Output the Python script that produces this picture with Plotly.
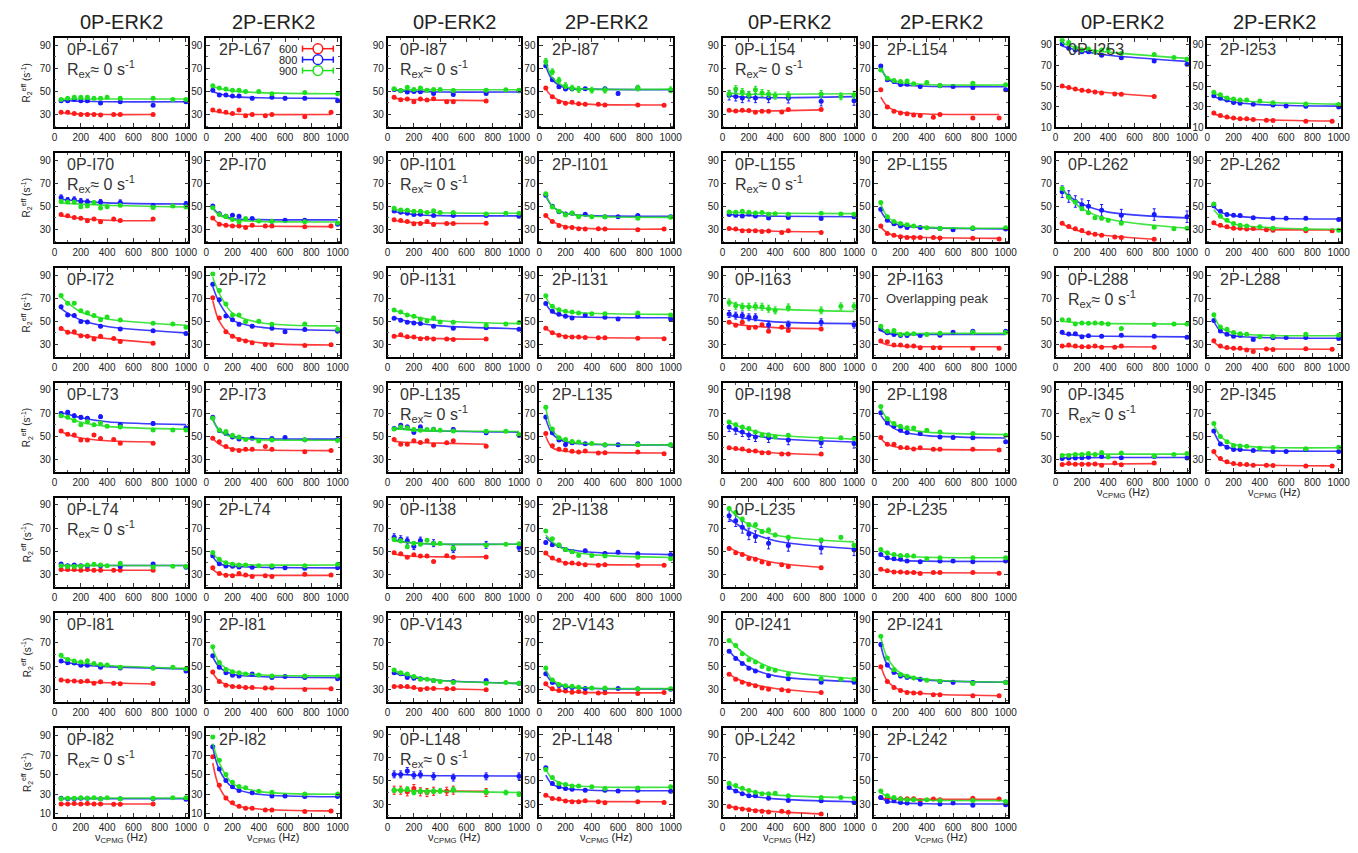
import plotly.graph_objects as go

# ---------------- x positions (Hz) ----------------
X0_600 = [50, 100, 150, 200, 250, 300, 350, 450, 500, 750]
X0_800 = [50, 100, 150, 200, 250, 350, 500, 750, 1000]
X0_900 = [50, 100, 150, 200, 250, 300, 350, 400, 500, 750, 900, 1000]
X2_600 = [50, 100, 150, 200, 250, 300, 350, 450, 500, 750, 950]
X2_800 = [50, 100, 150, 200, 250, 350, 500, 600, 750, 1000]
X2_900 = [50, 100, 150, 200, 250, 300, 400, 500, 750, 1000]
# fit-curve nodes
FX0_600 = [50, 100, 200, 400, 750]
FX2_600 = [50, 100, 200, 400, 950]
FX_800 = [50, 100, 200, 400, 1000]
FX_900 = [50, 100, 200, 400, 1000]

FIELDS = ["600", "800", "900"]
COLORS = ["#ff1a1a", "#1a1aff", "#1ee01e"]
X_TICKS = [0, 200, 400, 600, 800, 1000]

# ---------------- data: (600, 800, 900) ----------------
D_0P_L67 = ([32,32,31,30,30,30,29.5,30,30,30], [42,42,43,42,42,40,41,38,41], [43,44,45,45,45,44,44,45,44,44,43,43])
F_0P_L67 = ([31.5,31,30.5,30,30], [42,42,41.5,41,41], [43.5,43.5,43.5,43.5,43.5])
E_0P_L67 = (0.6, 0.8, 0.8)
D_2P_L67 = ([34,33,32,31,34,29,30,29,30,28,32], [51,47,47,46,46,44,45,44,44,42], [55,53,52,51,51,50,50,48,49,48])
F_2P_L67 = ([33,32,30.5,30,30], [50,48,45.5,44.5,44], [54,52.5,50.5,49,48])
E_2P_L67 = (0.6, 1.2, 0.8)

D_0P_I70 = ([43,41.8,40.3,39.7,37.5,39,36.6,39,37.7,39], [57.7,55.4,56,54.5,54,53.7,53.4,50.3,52], [54.3,53.7,53.7,49.7,50.3,53.4,48.6,49.7,50.9,49,50.3,49.4])
F_0P_I70 = ([42,41,39.5,38,37.5], [56,55.5,54.5,53,52], [53,52.5,52,51,49.5])
E_0P_I70 = (0.8, 2.2, 1.2)
D_2P_I70 = ([40,34.6,33.7,32.9,32.9,31.7,33.7,32.9,32.9,32.3,32.9], [50.3,43.7,41.4,42.3,41.4,39.4,37.1,38,38,34.6], [48.9,42.9,41.4,38.6,36.6,39.4,37.4,37.1,36.6,35.7])
F_2P_I70 = ([40,35,33.2,32.8,32.5], [49,43,39.5,38.5,38.3], [48,42.5,38.5,37,36.5])
E_2P_I70 = (0.6, 1.0, 0.8)

D_0P_I72 = ([43.7,40.6,41,37.4,37,34.6,37,35,32.4,31], [62.6,55.4,54.9,49.7,49.4,45.7,43.4,41.7,39.4], [72.3,65.7,65.7,59,57.4,54.9,51.4,53.7,51.1,48.3,47.7,44.9])
F_0P_I72 = ([43.5,41,38,35,31.5], [61,57,51,45.5,40], [71,66,58,52,46.5])
E_0P_I72 = (0.8, 1.0, 1.0)
D_2P_I72 = ([70.3,52.9,41,37,34.3,32.9,31.4,30,29.7,29,29.7], [82,68.6,54.6,51.4,47.4,45.7,44,41,42.9,41.4], [91,76.6,65,55.4,55.4,49.7,50,47.4,47.7,43.1])
F_2P_I72 = ([68,50,37,31.5,29.5], [80,66,51,45,42], [88,74,57,49,46])
E_2P_I72 = (0.8, 1.2, 1.2)

D_0P_L73 = ([54.5,51.7,51.1,46.6,46.6,51.1,48,47.2,43.8,43.8], [69.7,70.8,67.7,66.3,65.5,66.9,59.8,61,57], [67.7,66.3,63.5,59.8,62.6,59.8,61.5,58.7,57.9,55.4,55.4,55.4])
F_0P_L73 = ([54,51.5,48.5,46,45], [70,69,66,62.5,60], [68,66,62,58.5,56])
E_0P_L73 = (0.8, 1.5, 1.0)
D_2P_I73 = ([48.3,45.2,41,38.5,37.6,38.8,38.8,41,38.8,36.5,37.6], [66.3,55,52.3,49.4,47.5,48.3,48,48.9,47,47.2], [65.5,55.4,54,50.8,49.2,47.2,45.8,46.6,47,46.3])
F_2P_I73 = ([48,43,39,38,37.5], [65,55,50,48,47.5], [64,55,49,47,46.5])
E_2P_I73 = (0.6, 1.0, 0.8)

D_0P_L74 = ([34,34,34,33.5,34,33.5,33.5,33.5,33.5,33.5], [38.9,37.4,38,37.4,37.1,37.4,36.6,38.9,36], [37.4,36.6,36.6,36.9,38,38.6,38,37.4,39.4,36,36.9,36.6])
F_0P_L74 = ([33.5,33.5,33.5,33.5,33.5], [37.5,37.5,37.5,37.5,37.5], [37.6,37.6,37.6,37.6,37.6])
E_0P_L74 = (0.6, 0.8, 0.8)
D_2P_L74 = ([35.7,30.6,29.1,28.6,30.6,29.4,28,28.6,28,30,29.4], [46,39.1,37.1,36.9,36.3,36,36,35.7,35.1,35.7], [48.9,42.9,40,38.6,38,38,37.4,37.4,37.4,38.6])
F_2P_L74 = ([34,30.5,29.2,29,29], [45,39,37,36,35.5], [48,42.5,39,38,38])
E_2P_L74 = (0.6, 0.8, 0.8)

D_0P_I81 = ([38,37.1,37.1,36.6,37.1,35.1,36.3,35.1,34.6,34.9], [54.3,52.9,52.6,50.6,50.6,48.9,48.3,48.6,45.7], [59.4,55.7,54.3,53.4,54.6,52.3,51.4,50.9,48.9,48,48.9,47.7])
F_0P_I81 = ([38,37.5,36.5,35.5,34.5], [54,53,51,49.5,47.5], [58,56,53,50.5,48])
E_0P_I81 = (0.6, 1.0, 0.8)
D_2P_I81 = ([44.9,36.6,33.4,32.3,32,31.4,31.4,30.9,30.9,29.7,30.3], [58.9,48.9,44.3,42,41.4,43.1,40,40.9,40,39.1], [66.6,53.1,47.1,45.1,44.3,43.1,42.3,41.4,41.4,41.4])
F_2P_I81 = ([44,37,32.5,31,30.5], [58,49,43,41,40], [65,53,45.5,42.5,41.5])
E_2P_I81 = (0.6, 0.8, 0.8)

D_0P_I82 = ([20,20,20.5,20,20.5,20,20,19.7,19.7,20], [26,25.5,25.5,26,26,25.5,25.5,25.5,25], [25.5,26,26,26.5,26,26.5,25.5,26.5,25.5,26,26.5,26.5])
F_0P_I82 = ([20,20,20,20,20], [25.5,25.5,25.5,25.5,25.5], [26.2,26.2,26.2,26.2,26.2])
E_0P_I82 = (0.6, 0.6, 0.6)
D_2P_I82 = ([68.3,39.3,26.3,21.3,17.7,15.7,15.7,14,14,12.3,13], [78.7,56,44,37.7,34,31.7,28.3,28.3,27.7,27.7], [88.7,64.7,50.3,42.3,38,36.7,33,32,30.3,30.3])
F_2P_I82 = ([62,37,20,15,13], [78,55,37,30,27.5], [82,62,41,33,30])
E_2P_I82 = (0.8, 1.0, 1.0)

D_0P_I87 = ([44.9,42.9,43.4,41.1,43.4,42.6,43.7,41.1,41.1,41.7], [51.7,50.6,49.4,50,49.7,48.3,47.4,48.3,50.6], [52.3,50.9,53.7,51.7,52.9,51.1,51.7,51.7,50.9,51.1,51.4,51.1])
F_0P_I87 = ([44,43.5,43,42.5,42], [51,50.5,50,49.5,49.5], [51.5,51.5,51.5,51.5,51.5])
E_0P_I87 = (0.8, 1.0, 1.0)
D_2P_I87 = ([53,45.4,41.1,39.7,40.6,39.4,38.9,38.9,38.3,38.3,38], [72.3,60,54,52,52.3,52.3,52.3,48.3,53.1,51.1], [76,67,59.7,55,52.9,51.7,51.1,51.1,52.9,51.4])
F_2P_I87 = ([52,45.5,40.5,38.8,38.3], [72,60,53,52,51.5], [76,62,54,52,52])
E_2P_I87 = (0.6, 1.2, 2.5)

D_0P_I101 = ([38.3,37.7,36.9,34.9,35.1,36.9,34.3,35.1,35.1,35.4], [46,44.9,44,42.9,43.1,42,42,42,41.4], [48.3,46.9,46.6,45.7,45.7,44.6,46.3,44.6,44.6,43.4,44,44])
F_0P_I101 = ([38,37,36,35.3,35.2], [45.5,44.5,43,42,41.8], [47.5,46.5,45.5,44.5,44])
E_0P_I101 = (0.6, 0.8, 0.8)
D_2P_I101 = ([42,36.9,33.4,32,31.7,30.6,30.3,30.6,30.3,29.7,30.3], [59.7,50,45.4,43.4,44,43.1,41.1,41.1,42,41.1], [60.9,49.4,45.7,42.6,44.3,41.1,41.1,41.1,39.7,40.6])
F_2P_I101 = ([42,37,32.5,30.7,30.3], [59,50,44,42,41.5], [60,50,44,41.5,40.5])
E_2P_I101 = (0.6, 0.8, 0.8)

D_0P_I131 = ([37.1,38.3,36.6,36.3,34.9,35.4,34.6,34.6,34.3,34.6], [52.6,50.9,49.1,48.6,48,45.7,44,44.3,43.1], [59.7,58,55.4,54.3,52,50.3,52.9,49.4,49.1,46.6,47.7,48.9])
F_0P_I131 = ([37.5,37,36,35,34.5], [53,51.5,49,46,43.5], [59.5,57.5,54,50.5,48])
E_0P_I131 = (0.8, 0.8, 0.8)
D_2P_I131 = ([44,40,38,36.6,36.3,36.3,36,35.7,35.7,35.4,34.9], [65.4,58.6,56,54.3,52.9,55.4,53.4,52,54.3,52], [72,62.9,60,58.6,58,57.1,56.6,56.6,57.1,55.4])
F_2P_I131 = ([44,40,37,36,35.5], [65,58,54.5,53.5,53], [71,62.5,58.5,57,56])
E_2P_I131 = (0.6, 1.0, 0.8)

D_0P_L135 = ([47.1,43.1,43.1,46,44.6,46,42.3,44.3,46,41.4], [56.6,59.4,58,53.4,58,56,55.7,52.9,50.9], [56.3,58,57.1,55.7,55.1,55.7,55.7,55.1,54.6,54.3,54.3,51.4])
F_0P_L135 = ([45.5,45,44.5,44,43], [57,56.5,55.5,54.5,53.5], [56,56,55,54.5,54])
E_0P_L135 = (0.8, 1.5, 1.0)
D_2P_L135 = ([52.3,41.7,38.6,38,36.9,36.3,37.1,35.4,35.7,36.3,34.9], [66.6,52.9,46.6,42.9,44.3,43.4,42.3,42.6,43.4,42.3], [75.1,56.3,48.6,47.1,45.4,44.9,43.7,42.6,42.6,42.6])
F_2P_L135 = ([50,40,37,36,35.5], [65,52,45,43,42.5], [74,55,46,43.5,42.5])
E_2P_L135 = (0.8, 1.2, 1.0)

D_0P_I138 = ([48.6,47.7,44.6,46.9,45.7,45.7,41.1,46,44.6,44.9], [62,60.3,59.1,54.3,59.1,56.9,51.7,55.4,53.1], [60,58.9,53.7,56.9,56,59.4,56.6,56.6,52.6,55.1,56,56.3])
F_0P_I138 = ([47.5,46.5,45.5,45,45], [60,58.5,57,56,56], [59,58,57,56,56])
E_0P_I138 = (0.8, 3.0, 1.2)
D_2P_I138 = ([48.3,44,42,39.4,39.7,39.1,38.3,37.7,38.3,37.7,37.7], [57.4,55.4,54.9,51.4,49.7,50.3,48,49.1,47.7,46.9], [67.4,60.6,55.4,51.4,49.4,46.3,46.3,45.7,44.6,43.4])
F_2P_I138 = ([48,43.5,40,38.5,38], [62,57,52,49,47], [64,58,51,47,44.5])
E_2P_I138 = (0.6, 1.2, 1.0)

D_0P_V143 = ([32.3,32.3,32.3,31.4,29.7,30.6,30.6,30.3,30.3,29.4], [44.3,43.4,40,39.4,38.9,37.4,36.6,37.4,35.1], [46.6,44.3,43.1,40.9,38.6,38.6,37.4,36.6,35.7,35.1,35.7,35.1])
F_0P_V143 = ([32.5,32,31,30.3,29.5], [44,42.5,40,37.5,35], [46,44,41,37.5,35])
E_0P_V143 = (0.6, 0.8, 0.8)
D_2P_V143 = ([34.6,30.3,28.9,28.3,27.4,28,27.1,26.6,26.9,26.3,27.1], [43.4,35.7,33.1,31.7,31.4,30.6,30.3,30.6,30.3,30], [48.3,38,34,32.9,32.6,31.7,30.9,30.9,30.3,30.3])
F_2P_V143 = ([34,30,28,27,26.8], [43,36,32,30.6,30.2], [47,38,33,31,30.5])
E_2P_V143 = (0.6, 0.8, 0.8)

D_0P_L148 = ([42,42,40.6,43.4,40.6,40,41.1,41.1,42,40], [55.7,55.7,58.6,54.9,55.7,54,52.9,54,54], [42,42,42.9,40,41.1,40.6,41.1,41.4,42.6,40.6,40,38.6])
F_0P_L148 = ([42,41.8,41.5,41.3,41], [56,55.7,55,54.5,54.3], [42,42,41.5,41,40])
E_0P_L148 = (3.5, 3.0, 2.0)
D_2P_L148 = ([37.7,34.9,34.3,32.6,32,32,32.9,32,31.1,32,31.4], [61.4,47.7,45.1,43.4,42.9,42,42,41.4,42,41.1], [60,53.1,47.7,46.9,45.7,45.7,44.9,43.4,44,44.9])
F_2P_L148 = ([38,35,33,32.3,32], [55,47,43.5,42,41.5], [60,52,47,45,44.5])
E_2P_L148 = (0.6, 1.2, 0.8)

D_0P_L154 = ([33.7,33.1,33.7,33.4,32,32.9,32.9,32.3,34.3,34.3], [46.6,45.7,44.3,45.7,44.3,44.3,44,41.4,42], [48,52,49.4,47.1,51.4,48.6,47.7,46.3,46.6,47.7,45.7,47.1])
F_0P_L154 = ([33,33,33,33.2,34], [46,45.5,45,44.5,45.5], [48.5,48,47.5,47.5,48])
E_0P_L154 = (0.8, 4.0, 3.0)
D_2P_L154 = ([51.4,36.6,32.9,31.4,30.6,29.7,29.1,27.7,30,26.9,26.9], [72,60,58.6,56,56.3,54.3,54.9,54.3,53.4,51.4], [68.6,61.4,59.4,58.6,59.1,56.6,57.7,55.1,57.1,55.7])
F_2P_L154 = ([45,37,32,30.5,30], [71,61,56,54.5,54], [70,62,58,56,55.5])
E_2P_L154 = (0.6, 1.2, 1.0)

D_0P_L155 = ([30.9,30.3,28.9,28.9,28.9,28.3,28.6,27.4,28.9,27.4], [42.9,42.3,41.7,43.4,41.7,40,40.3,39.4,40.9], [45.1,44.9,45.7,44.9,44.3,44.6,43.1,43.7,43.1,44,43.4,43.1])
F_0P_L155 = ([30.5,30,29.3,28.5,28], [43,42.5,42,41.5,41], [45,44.7,44.3,44,43.7])
E_0P_L155 = (0.6, 0.8, 0.8)
D_2P_L155 = ([32.9,26.6,25.1,23.7,23.1,23.1,23.1,23.1,22.6,22.3,21.7], [47.4,38,34.9,33.1,31.7,31.7,30.9,29.7,30.9,30.3], [53.4,41.1,36.9,35.1,34,33.1,31.4,30.9,31.4,31.4])
F_2P_L155 = ([32,27,24,23,22.3], [46,38,33.5,31.5,30.5], [52,41,35,32,31])
E_2P_L155 = (0.6, 0.8, 0.8)

D_0P_I163 = ([49.1,46.6,49.1,44.3,44.9,47.1,41.4,44.9,42,43.4], [56.3,54.9,54.9,53.4,53.4,47.1,47.1,49.1,47.1], [66.3,63.4,62.6,62.6,62.9,62.6,60.9,59.4,62,59.4,62.9,62.9])
F_0P_I163 = ([49,47.5,46,44.5,43.5], [55,54,52,49.5,48], [67,65,62.5,60.5,58.5])
E_0P_I163 = (1.0, 3.0, 3.0)
D_2P_I163 = ([32.9,32.3,29.4,29.4,28.6,28.6,27.1,27.1,27.1,26.6,26.6], [43.4,40,38.6,37.7,37.7,37.7,38,40.6,41.4,41.4], [45.7,41.4,42,38.6,39.1,39.1,38.6,39.7,40.6,40.3])
F_2P_I163 = ([32,29.5,28.5,28,28], [42,39.5,38.5,38.5,38.5], [44,41,39.5,39.5,39.5])
E_2P_I163 = (0.6, 0.8, 0.8)

D_0P_I198 = ([40,39.4,38.9,37.4,37.1,35.7,35.7,34.6,34.6,34.6], [58,55.7,53.7,51.1,49.4,48.6,46.6,44.3,43.7], [62.3,60,58,56.6,53.7,50.9,50.9,49.4,50.9,48,48.6,48])
F_0P_I198 = ([40,39,37.5,35.5,34], [57,55,51.5,48,45], [62,59.5,55.5,51,47.5])
E_0P_I198 = (0.8, 4.0, 1.2)
D_2P_L198 = ([48.9,43.1,43.1,40.3,40,38.9,40,38.6,38.6,38.6,38], [70.3,61.4,58.6,55.1,53.1,52.3,49.4,48.9,48.6,45.1], [75.7,65.1,60.9,58.6,57.4,57.1,55.1,53.7,52.3,50.9])
F_2P_L198 = ([48,43,40,38.8,38], [68,61,54,50.5,48.5], [74,65,57.5,53.5,51.5])
E_2P_L198 = (0.6, 1.2, 1.0)

D_0P_L235 = ([52.3,48.6,47.1,43.7,42.9,40.6,39.1,38.3,36.6,35.7], [80.6,76.3,70.6,64.9,62.6,56.9,54.9,52.6,51.1], [86.9,83.4,77.7,72.9,72.9,66.9,68.3,64,62,59.7,62,55.1])
F_0P_L235 = ([53,50,45.5,40,36], [78,74,67,59,52], [87,81,73,64,58])
E_0P_L235 = (1.2, 5.0, 1.5)
D_2P_L235 = ([34.3,32.9,32,32,31.4,31.4,30.6,31.4,31.4,31.4,30.9], [47.1,44.3,43.4,42.9,41.4,40.9,41.4,41.4,40.9,41.4], [51.4,48.6,47.1,46.3,46.3,45.7,43.4,44.3,44.3,44.3])
F_2P_L235 = ([34,32.8,31.8,31.3,31], [46.5,44,42,41.3,41], [51,48,46,44.7,44.3])
E_2P_L235 = (0.6, 0.8, 0.8)

D_0P_I241 = ([42.9,38.6,36,34.3,32.9,30.9,30,29.4,28.6,27.1], [62.9,56.6,52.3,48,45.7,41.7,38.9,36,36], [72,67.7,60.6,55.4,53.4,49.7,47.4,46.3,42.9,39.1,38.6,38.6])
F_0P_I241 = ([43,39.5,35,30.5,27], [63,57,49,41.5,36.5], [73,67,58,47.5,39])
E_0P_I241 = (0.8, 1.0, 1.0)
D_2P_I241 = ([49.4,36.6,31.4,28.9,27.1,26.6,26.6,25.1,25.1,24.3,24.3], [68.6,50.9,44.6,41.4,40.3,38.6,36.6,36,35.7,36], [75.7,56.9,46.9,42.6,41.1,39.7,37.7,36.9,34.9,35.7])
F_2P_I241 = ([50,37,29,26,24.3], [68,51,42,38,36], [75,57,44,38.5,36])
E_2P_I241 = (0.8, 1.5, 1.0)

D_0P_L242 = ([28,26.6,25.7,25.1,24.3,23.7,23.1,23.7,22.9,21.4], [44.3,41.4,38.9,37.1,37.1,35.1,33.1,32.9,31.4], [48,46,43.7,41.7,40.3,38.9,38.9,39.4,37.1,35.7,35.7,35.1])
F_0P_L242 = ([28,27,25.3,23.5,21.5], [44,41.5,37.5,34.5,32], [47.5,45,41.5,38,35.5])
E_0P_L242 = (0.6, 0.8, 1.0)
D_2P_L242 = ([35.7,35.1,35.1,34.6,34.6,34.6,32.9,34.3,33.7,35.1,34.3], [35.7,32.3,32.9,31.4,30.9,30,30,30.9,28.9,29.4], [41.4,37.1,35.7,34.3,33.7,33.7,33.7,33.1,33.1,32.3])
F_2P_L242 = ([35,34.6,34.3,34.2,34.2], [35,32.5,31,30.3,30], [40,36.5,34,33.3,33])
E_2P_L242 = (0.6, 0.8, 0.8)

D_0P_I253 = ([50,48.7,47.3,46,45.3,44.3,43.3,42.3,42,39.8], [91,86.7,85,83.5,83.5,80,77.5,74.3,71.2], [94.6,92.3,87.4,85,86,83.5,85,85.7,81.7,80.7,77.8,76.2])
F_0P_I253 = ([50,48.5,46,43.5,40], [89,87,84,80,74], [92,89.5,86.5,83,77])
E_0P_I253 = (0.6, 1.0, 1.0)
D_2P_I253 = ([23.8,21.5,19.9,18.9,18.3,18.3,17.6,16.9,16.6,15.9,15.9], [40.6,38.3,36.6,34,33.3,32.3,31.6,30.7,30.3,29.7], [44,41.7,38.4,37.4,36.4,36.4,35.4,33.7,32.7,32])
F_2P_I253 = ([23,21,18.8,17.3,16], [40,37.5,34.5,32,30.5], [43,40.5,37,34.5,32.5])
E_2P_I253 = (0.6, 0.8, 0.8)

D_0P_L262 = ([35.4,32.5,30.6,29.2,26.9,25.8,24.9,23.5,23,21.5], [62.7,58.5,54.2,51.4,50,46.6,42.4,42.9,41], [65.5,57.9,53.7,48,44.4,40.2,39.6,37.9,35.4,32,30.6,31.1])
F_0P_L262 = ([35,32,28,24.5,21.5], [65,59,52,45,40], [65,58,48,39,31])
E_0P_L262 = (1.0, 5.0, 1.2)
D_2P_L262 = ([35.9,33.7,32.3,31.1,31.1,30.3,30.8,29.7,29.4,28.8,28.8], [50.6,45.8,43,42.4,42.1,40.1,39.6,39.6,39.6,38.7], [52,41.5,37.9,35.1,33.7,33.1,32.3,31.1,30.3,29.4])
F_2P_L262 = ([35,33,31,30,29.5], [49.5,45,42,40,39], [47,41,35,32,30])
E_2P_L262 = (0.8, 1.0, 1.0)

D_0P_L288 = ([28.6,29.4,28.6,28,28,28.6,27.5,27.5,28.6,27.5], [40.5,39,39.3,36.5,37.4,37.1,38,37.1,36.2], [51.4,51.1,47.7,48.6,48.3,48.6,48.3,47.7,43.8,47.2,47.7,47.7])
F_0P_L288 = ([28.5,28.3,28,28,27.8], [39,38.5,37.5,37,36.5], [50,49.5,48.5,48,47.5])
E_0P_L288 = (0.6, 0.8, 0.8)
D_2P_L288 = ([33.1,28.6,27.2,26.6,26.6,25.2,23.8,26,25.5,26.3,25.8], [50.6,41.5,38.7,37.1,38,34.3,35.7,36,36,35.1], [55.7,45,43,40.2,39.3,38.7,36.5,37.1,38.7,38])
F_2P_L288 = ([32,28,26.5,26,25.8], [50,41.5,37.5,36,35.3], [55,45,40,38,37.5])
E_2P_L288 = (0.6, 0.8, 0.8)

D_0P_I345 = ([25.5,26.3,25.8,25.8,25.8,26,24.9,26.9,25.2,26.9], [30.6,31.1,31.1,31.4,31.7,32.5,31.4,32.5,31.1], [33.4,33.4,34.2,34.2,35.1,34.2,35.9,32,35.4,32.8,34.2,35.1])
F_0P_I345 = ([25.7,25.8,25.9,26,26.3], [31,31.2,31.4,31.6,31.6], [34,34.2,34.3,34.5,34.5])
E_0P_I345 = (0.6, 0.8, 0.8)
D_2P_I345 = ([36.8,30.6,27.8,26.3,25.8,25.5,24.9,24.9,24.6,24.1,24.3], [54.6,43.3,40.5,38.5,38.5,37.7,36.8,36.8,38.5,36.8], [60.9,49.8,45.3,41.9,41.6,41.3,39.6,40.2,39.1,40.5])
F_2P_I345 = ([36,30,26,25,24.3], [54,44,39,37.5,37], [60,50,43,40.5,40])
E_2P_I345 = (0.6, 0.8, 0.8)

# (group, row, label0P, data0P, fit0P, err0P, label2P, data2P, fit2P, err2P, axis kind)
PANEL_ROWS = [
    (0, 0, "0P-L67", D_0P_L67, F_0P_L67, E_0P_L67, "2P-L67", D_2P_L67, F_2P_L67, E_2P_L67, "std"),
    (0, 1, "0P-I70", D_0P_I70, F_0P_I70, E_0P_I70, "2P-I70", D_2P_I70, F_2P_I70, E_2P_I70, "std"),
    (0, 2, "0P-I72", D_0P_I72, F_0P_I72, E_0P_I72, "2P-I72", D_2P_I72, F_2P_I72, E_2P_I72, "std"),
    (0, 3, "0P-L73", D_0P_L73, F_0P_L73, E_0P_L73, "2P-I73", D_2P_I73, F_2P_I73, E_2P_I73, "std"),
    (0, 4, "0P-L74", D_0P_L74, F_0P_L74, E_0P_L74, "2P-L74", D_2P_L74, F_2P_L74, E_2P_L74, "std"),
    (0, 5, "0P-I81", D_0P_I81, F_0P_I81, E_0P_I81, "2P-I81", D_2P_I81, F_2P_I81, E_2P_I81, "std"),
    (0, 6, "0P-I82", D_0P_I82, F_0P_I82, E_0P_I82, "2P-I82", D_2P_I82, F_2P_I82, E_2P_I82, "low"),
    (1, 0, "0P-I87", D_0P_I87, F_0P_I87, E_0P_I87, "2P-I87", D_2P_I87, F_2P_I87, E_2P_I87, "std"),
    (1, 1, "0P-I101", D_0P_I101, F_0P_I101, E_0P_I101, "2P-I101", D_2P_I101, F_2P_I101, E_2P_I101, "std"),
    (1, 2, "0P-I131", D_0P_I131, F_0P_I131, E_0P_I131, "2P-I131", D_2P_I131, F_2P_I131, E_2P_I131, "std"),
    (1, 3, "0P-L135", D_0P_L135, F_0P_L135, E_0P_L135, "2P-L135", D_2P_L135, F_2P_L135, E_2P_L135, "std"),
    (1, 4, "0P-I138", D_0P_I138, F_0P_I138, E_0P_I138, "2P-I138", D_2P_I138, F_2P_I138, E_2P_I138, "std"),
    (1, 5, "0P-V143", D_0P_V143, F_0P_V143, E_0P_V143, "2P-V143", D_2P_V143, F_2P_V143, E_2P_V143, "std"),
    (1, 6, "0P-L148", D_0P_L148, F_0P_L148, E_0P_L148, "2P-L148", D_2P_L148, F_2P_L148, E_2P_L148, "std"),
    (2, 0, "0P-L154", D_0P_L154, F_0P_L154, E_0P_L154, "2P-L154", D_2P_L154, F_2P_L154, E_2P_L154, "std"),
    (2, 1, "0P-L155", D_0P_L155, F_0P_L155, E_0P_L155, "2P-L155", D_2P_L155, F_2P_L155, E_2P_L155, "std"),
    (2, 2, "0P-I163", D_0P_I163, F_0P_I163, E_0P_I163, "2P-I163", D_2P_I163, F_2P_I163, E_2P_I163, "std"),
    (2, 3, "0P-I198", D_0P_I198, F_0P_I198, E_0P_I198, "2P-L198", D_2P_L198, F_2P_L198, E_2P_L198, "std"),
    (2, 4, "0P-L235", D_0P_L235, F_0P_L235, E_0P_L235, "2P-L235", D_2P_L235, F_2P_L235, E_2P_L235, "std"),
    (2, 5, "0P-I241", D_0P_I241, F_0P_I241, E_0P_I241, "2P-I241", D_2P_I241, F_2P_I241, E_2P_I241, "std"),
    (2, 6, "0P-L242", D_0P_L242, F_0P_L242, E_0P_L242, "2P-L242", D_2P_L242, F_2P_L242, E_2P_L242, "std"),
    (3, 0, "0P-I253", D_0P_I253, F_0P_I253, E_0P_I253, "2P-I253", D_2P_I253, F_2P_I253, E_2P_I253, "i253"),
    (3, 1, "0P-L262", D_0P_L262, F_0P_L262, E_0P_L262, "2P-L262", D_2P_L262, F_2P_L262, E_2P_L262, "std"),
    (3, 2, "0P-L288", D_0P_L288, F_0P_L288, E_0P_L288, "2P-L288", D_2P_L288, F_2P_L288, E_2P_L288, "std"),
    (3, 3, "0P-I345", D_0P_I345, F_0P_I345, E_0P_I345, "2P-I345", D_2P_I345, F_2P_I345, E_2P_I345, "std"),
]
REX_ZERO = {"0P-L67", "0P-I70", "0P-L74", "0P-I82", "0P-I87", "0P-I101", "0P-L135",
            "0P-L148", "0P-L154", "0P-L155", "0P-L288", "0P-I345"}
NOTES = {"2P-I163": "Overlapping peak"}
ROWS_PER_GROUP = [7, 7, 7, 4]

# ---------------- geometry (pixels) ----------------
W, H = 1358, 853
GROUP_LEFT = [(52, 205), (388, 541), (726, 879), (1062, 1215)]
PW, PH = 135, 89.5
TOP0, PITCH = 38.5, 115.6
YR = {"std": [19, 96], "low": [7, 98], "i253": [10, 96.5]}
FONT = "Liberation Sans, Arial, Helvetica, sans-serif"

fig = go.Figure()
annotations = []
shapes = []
layout_axes = {}
n = 0

def xs_for(state):
    if state == 0:
        return (X0_600, X0_800, X0_900), (FX0_600, FX_800, FX_900)
    return (X2_600, X2_800, X2_900), (FX2_600, FX_800, FX_900)

for (g, r, lab0, d0, f0, e0, lab2, d2, f2, e2, kind) in PANEL_ROWS:
    for state, (lab, dd, ff, ee) in enumerate([(lab0, d0, f0, e0), (lab2, d2, f2, e2)]):
        n += 1
        xa = "x" if n == 1 else f"x{n}"
        ya = "y" if n == 1 else f"y{n}"
        left = GROUP_LEFT[g][state]
        top = TOP0 + PITCH * r
        xdom = [left / W, (left + PW) / W]
        ydom = [1 - (top + PH) / H, 1 - top / H]
        XP, XF = xs_for(state)
        for s in range(3):
            xp = XP[s][:len(dd[s])]
            fig.add_trace(go.Scatter(
                x=XF[s], y=ff[s], xaxis=xa, yaxis=ya, mode="lines",
                line=dict(color=COLORS[s], width=1.6, shape="spline", smoothing=0.9),
                opacity=0.85, showlegend=False, hoverinfo="skip"))
            fig.add_trace(go.Scatter(
                x=xp, y=dd[s], xaxis=xa, yaxis=ya, mode="markers",
                marker=dict(color=COLORS[s], size=5),
                error_y=dict(type="constant", value=ee[s], color=COLORS[s], thickness=1, width=1.5),
                showlegend=False, name=FIELDS[s]))
        tickfont = dict(family=FONT, size=10, color="#222")
        layout_axes["xaxis" if n == 1 else f"xaxis{n}"] = dict(
            domain=xdom, anchor=ya, range=[0, 1018], tickmode="linear", tick0=0, dtick=200,
            ticks="inside", ticklen=4, tickcolor="#333", showline=True, mirror="ticks",
            linecolor="black", linewidth=1.5, showgrid=False, zeroline=False, tickfont=tickfont,
            minor=dict(ticks="inside", ticklen=2, dtick=100, tick0=0, tickcolor="#555"))
        layout_axes["yaxis" if n == 1 else f"yaxis{n}"] = dict(
            domain=ydom, anchor=xa, range=YR[kind], tickmode="linear", tick0=10, dtick=20,
            ticks="inside", ticklen=4, tickcolor="#333", showline=True, mirror="ticks",
            linecolor="black", linewidth=1.5, showgrid=False, zeroline=False, tickfont=tickfont,
            minor=dict(ticks="inside", ticklen=2, dtick=10, tick0=0, tickcolor="#555"))
        # panel label
        annotations.append(dict(text=lab, xref=f"{xa} domain", yref=f"{ya} domain",
                                x=0.08, y=0.99, xanchor="left", yanchor="top", showarrow=False,
                                font=dict(family=FONT, size=16, color="#333")))
        if lab in REX_ZERO:
            annotations.append(dict(text="R<sub>ex</sub>\u2248 0 s<sup>-1</sup>",
                                    xref=f"{xa} domain", yref=f"{ya} domain",
                                    x=0.08, y=0.80, xanchor="left", yanchor="top", showarrow=False,
                                    font=dict(family=FONT, size=16, color="#333")))
        if lab in NOTES:
            annotations.append(dict(text=NOTES[lab], xref=f"{xa} domain", yref=f"{ya} domain",
                                    x=0.07, y=0.76, xanchor="left", yanchor="top", showarrow=False,
                                    font=dict(family=FONT, size=13, color="#333")))
        # y-axis title on first column
        if g == 0 and state == 0:
            annotations.append(dict(text="R<sub>2</sub><sup>eff</sup> (s<sup>-1</sup>)",
                                    xref="paper", yref="paper", x=24 / W,
                                    y=1 - (top + PH / 2) / H, textangle=-90,
                                    xanchor="center", yanchor="middle", showarrow=False,
                                    font=dict(family=FONT, size=10, color="#222")))
        # column titles
        if r == 0:
            annotations.append(dict(text="0P-ERK2" if state == 0 else "2P-ERK2",
                                    xref="paper", yref="paper", x=(left + PW / 2) / W,
                                    y=1 - 22 / H, xanchor="center", yanchor="middle",
                                    showarrow=False, font=dict(family=FONT, size=20, color="#222")))
        # x-axis titles on bottom row
        if r == ROWS_PER_GROUP[g] - 1:
            annotations.append(dict(text="\u03bd<sub>CPMG</sub> (Hz)", xref="paper", yref="paper",
                                    x=(left + PW / 2) / W, y=1 - (top + PH + 21) / H,
                                    xanchor="center", yanchor="middle", showarrow=False,
                                    font=dict(family=FONT, size=11, color="#222")))
        # legend in 2P-L67 panel
        if g == 0 and r == 0 and state == 1:
            xr, yr = f"{xa} domain", f"{ya} domain"
            for s, yy in enumerate([0.883, 0.760, 0.637]):
                annotations.append(dict(text=FIELDS[s], xref=xr, yref=yr, x=0.69, y=yy,
                                        xanchor="right", yanchor="middle", showarrow=False,
                                        font=dict(family=FONT, size=11, color="#222")))
                shapes.append(dict(type="line", xref=xr, yref=yr, x0=0.72, x1=0.95, y0=yy, y1=yy,
                                   line=dict(color=COLORS[s], width=1.5)))
                for xc in (0.72, 0.95):
                    shapes.append(dict(type="line", xref=xr, yref=yr, x0=xc, x1=xc,
                                       y0=yy - 0.035, y1=yy + 0.035,
                                       line=dict(color=COLORS[s], width=1.5)))
                shapes.append(dict(type="circle", xref=xr, yref=yr, x0=0.835 - 0.036,
                                   x1=0.835 + 0.036, y0=yy - 0.055, y1=yy + 0.055,
                                   line=dict(color=COLORS[s], width=1.5), fillcolor="white"))

fig.update_layout(
    width=W, height=H, margin=dict(l=0, r=0, t=0, b=0),
    paper_bgcolor="white", plot_bgcolor="white", showlegend=False,
    annotations=annotations, shapes=shapes, **layout_axes)

fig.write_html("out.html")
